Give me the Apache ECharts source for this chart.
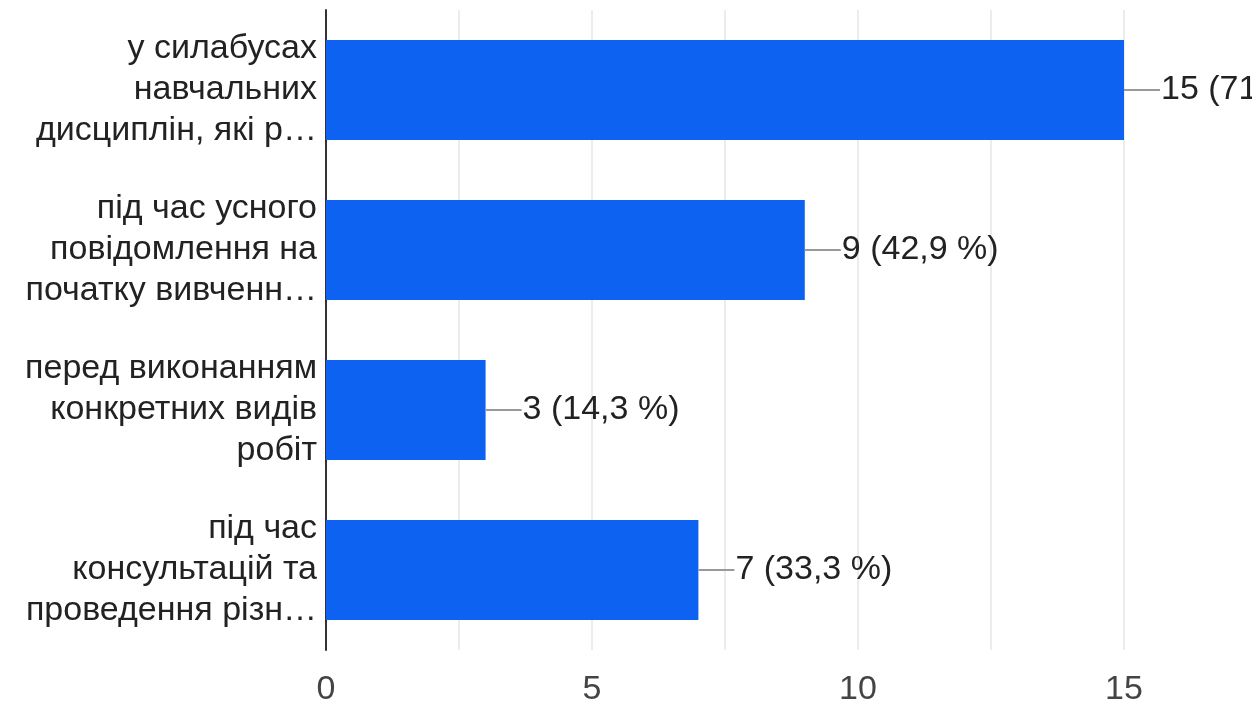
<!DOCTYPE html>
<html><head><meta charset="utf-8">
<script src="https://cdn.jsdelivr.net/npm/echarts@6/dist/echarts.min.js"></script>
<style>html,body{margin:0;padding:0;background:#fff}#c{width:1252px;height:708px}</style>
</head><body><div id="c"></div>
<script>
const categories = [
  "у силабусах\nнавчальних\nдисциплін, які р…",
  "під час усного\nповідомлення на\nпочатку вивченн…",
  "перед виконанням\nконкретних видів\nробіт",
  "під час\nконсультацій та\nпроведення різн…"
];
const values = [15, 9, 3, 7];
const percents = ["71,4 %", "42,9 %", "14,3 %", "33,3 %"];
const xTicks = [0, 5, 10, 15];

const FONT = 'Liberation Sans, Arial, sans-serif';
const chart = echarts.init(document.getElementById('c'));
chart.setOption({
  animation: false,
  grid: {left: 326, right: 128, top: 10, bottom: 58, containLabel: false},
  xAxis: {
    type: 'value', min: 0, max: 15, interval: 5,
    axisLine: {show: false}, axisTick: {show: false},
    axisLabel: {color: '#444', fontSize: 34, fontFamily: FONT, margin: 23,
      formatter: v => xTicks.includes(v) ? String(v) : ''},
    splitLine: {show: true, lineStyle: {color: '#e6e6e6', width: 1.5}},
    minorTick: {show: false, splitNumber: 2},
    minorSplitLine: {show: true, lineStyle: {color: '#e6e6e6', width: 1.5}}
  },
  yAxis: {
    type: 'category', data: categories, inverse: true,
    axisLine: {show: true, lineStyle: {color: '#333', width: 2}},
    axisTick: {show: false},
    axisLabel: {color: '#222', fontSize: 34, lineHeight: 41, align: 'right', margin: 9,
      fontFamily: FONT}
  },
  series: [{
    type: 'bar', data: values, barWidth: 100,
    itemStyle: {color: '#0d62f2'},
    label: {
      show: true, position: 'right', distance: 0,
      formatter: p => '{l|}{t|' + p.value + ' (' + percents[p.dataIndex] + ')}',
      rich: {
        l: {width: 36, height: 2, backgroundColor: '#999', verticalAlign: 'middle'},
        t: {fontSize: 34, color: '#222', fontFamily: FONT, padding: [0,0,0,1], verticalAlign: 'middle'}
      }
    }
  }]
});
</script></body></html>
